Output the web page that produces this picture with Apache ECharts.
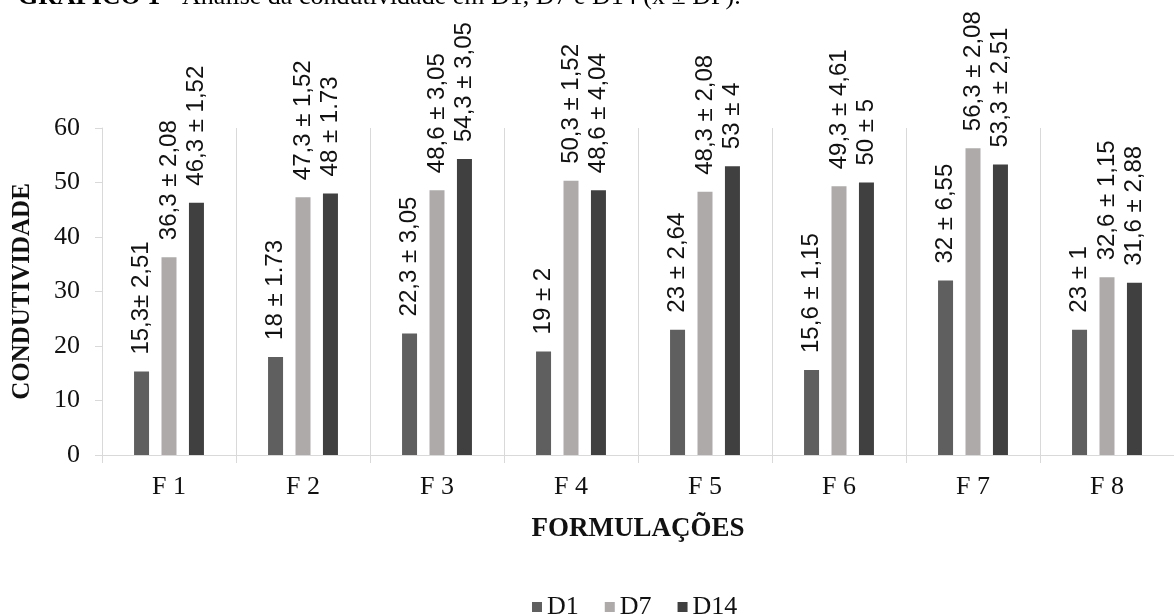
<!DOCTYPE html>
<html>
<head>
<meta charset="utf-8">
<script src="https://cdn.jsdelivr.net/npm/echarts@6/dist/echarts.min.js"></script>
<style>
html,body{margin:0;padding:0;background:#fff;}
#chart{width:1174px;height:614px;}
</style>
</head>
<body>
<div id="chart"></div>
<script>
const categories = ['F1','F2','F3','F4','F5','F6','F7','F8'];
const seriesNames = ['D1','D7','D14'];
const d1Values = [15.3, 18, 22.3, 19, 23, 15.6, 32, 23];
const d7Values = [36.3, 47.3, 48.6, 50.3, 48.3, 49.3, 56.3, 32.6];
const d14Values = [46.3, 48, 54.3, 48.6, 53, 50, 53.3, 31.6];
const d1Labels = ['15,3\u00b1 2,51','18 \u00b1 1.73','22,3 \u00b1 3,05','19 \u00b1 2','23 \u00b1 2,64','15,6 \u00b1 1,15','32 \u00b1 6,55','23 \u00b1 1'];
const d7Labels = ['36,3 \u00b1 2,08','47,3 \u00b1 1,52','48,6 \u00b1 3,05','50,3 \u00b1 1,52','48,3 \u00b1 2,08','49,3 \u00b1 4,61','56,3 \u00b1 2,08','32,6 \u00b1 1,15'];
const d14Labels = ['46,3 \u00b1 1,52','48 \u00b1 1.73','54,3 \u00b1 3,05','48,6 \u00b1 4,04','53 \u00b1 4','50 \u00b1 5','53,3 \u00b1 2,51','31,6 \u00b1 2,88'];
const yTicks = {min: 0, max: 60, interval: 10};
const colors = ['#5f5f5f', '#aeaaaa', '#404040'];

const serif = '"Liberation Serif", "Times New Roman", serif';
const sans = '"Liberation Sans", Arial, sans-serif';

function makeSeries(name, values, labels, color) {
  return {
    name: name,
    type: 'bar',
    data: values,
    barWidth: 15,
    barGap: '83%',
    itemStyle: {color: color},
    label: {
      show: true,
      position: 'top',
      rotate: 90,
      align: 'left',
      verticalAlign: 'middle',
      distance: 17,
      fontFamily: sans,
      fontSize: 24,
      color: '#111',
      formatter: p => labels[p.dataIndex]
    }
  };
}

const chart = echarts.init(document.getElementById('chart'), null, {renderer: 'canvas'});
chart.setOption({
  animation: false,
  backgroundColor: '#ffffff',
  grid: {left: 102, top: 128, width: 1084, bottom: 159, containLabel: false},
  graphic: [{
    type: 'text',
    left: 18,
    top: -16,
    style: {
      text: '{b|GR\u00c1FICO 1 -} Análise da condutividade em D1, D7 e D14 (x\u0304 \u00b1 DP).',
      font: '26px ' + serif,
      fill: '#000',
      rich: {b: {fontWeight: 'bold', fontFamily: serif, fontSize: 26}}
    }
  }],
  legend: {
    data: seriesNames,
    left: 527,
    top: 589,
    icon: 'rect',
    itemWidth: 10,
    itemHeight: 10,
    itemGap: 26,
    textStyle: {fontFamily: serif, fontSize: 26, color: '#111'}
  },
  xAxis: {
    type: 'category',
    data: categories,
    name: 'FORMULAÇÕES',
    nameLocation: 'middle',
    nameGap: 61,
    nameTextStyle: {fontFamily: serif, fontWeight: 'bold', fontSize: 27, color: '#111'},
    axisLine: {show: true, lineStyle: {color: '#d9d9d9', width: 1}},
    axisTick: {show: true, length: 8, lineStyle: {color: '#d9d9d9'}},
    splitLine: {show: true, lineStyle: {color: '#d9d9d9', width: 1}},
    axisLabel: {
      margin: 19,
      fontFamily: serif,
      fontSize: 26,
      color: '#111',
      formatter: v => v.replace('F', 'F ')
    }
  },
  yAxis: {
    type: 'value',
    min: yTicks.min,
    max: yTicks.max,
    interval: yTicks.interval,
    name: 'CONDUTIVIDADE',
    nameLocation: 'middle',
    nameGap: 67,
    nameRotate: 90,
    nameTextStyle: {fontFamily: serif, fontWeight: 'bold', fontSize: 25, color: '#111'},
    axisLine: {show: true, lineStyle: {color: '#d9d9d9', width: 1}},
    axisTick: {show: true, length: 7, lineStyle: {color: '#d9d9d9'}},
    splitLine: {show: false},
    axisLabel: {margin: 22, fontFamily: serif, fontSize: 26, color: '#111'}
  },
  series: [
    makeSeries(seriesNames[0], d1Values, d1Labels, colors[0]),
    makeSeries(seriesNames[1], d7Values, d7Labels, colors[1]),
    makeSeries(seriesNames[2], d14Values, d14Labels, colors[2])
  ]
});
</script>
</body>
</html>
